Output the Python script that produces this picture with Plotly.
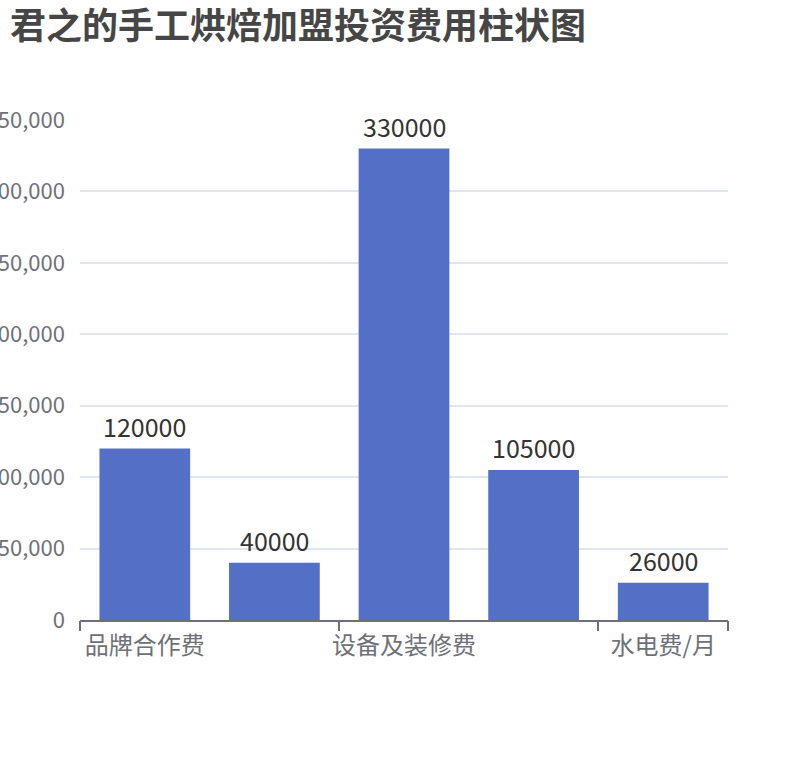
import plotly.graph_objects as go

categories = ["品牌合作费", "加盟保证金", "设备及装修费", "首批原料费", "水电费/月"]
costs = [120000, 40000, 330000, 105000, 26000]
shown_labels = categories[::2]
y_ticks = [0, 50000, 100000, 150000, 200000, 250000, 300000, 350000]

FONT = "Noto Sans CJK SC, Microsoft YaHei, sans-serif"
AXIS_GREY = "#6E7079"

fig = go.Figure()
fig.add_trace(
    go.Bar(
        x=categories,
        y=costs,
        marker_color="#5470C6",
        marker_line_width=0,
        hoverinfo="x+y",
    )
)

# value labels above the bars
for cat, val in zip(categories, costs):
    fig.add_annotation(
        x=cat,
        y=val,
        text=str(val),
        showarrow=False,
        yanchor="middle",
        yshift=23,
        font=dict(size=25, color="#333333", family=FONT),
    )

fig.update_layout(
    width=810,
    height=760,
    margin=dict(l=80, r=82, t=120, b=140, autoexpand=False),
    paper_bgcolor="white",
    plot_bgcolor="white",
    showlegend=False,
    bargap=0.3,
    font=dict(family=FONT),
    title=dict(
        text="<b>君之的手工烘焙加盟投资费用柱状图</b>",
        x=10 / 810,
        xanchor="left",
        xref="container",
        y=1 - 26 / 760,
        yanchor="middle",
        pad=dict(l=0, r=0, t=0, b=0),
        font=dict(size=36, color="#464646", family=FONT),
    ),
    xaxis=dict(
        type="category",
        categoryorder="array",
        categoryarray=categories,
        tickmode="array",
        tickvals=shown_labels,
        ticktext=shown_labels,
        ticks="",
        showgrid=False,
        showline=True,
        linecolor=AXIS_GREY,
        linewidth=2,
        tickfont=dict(size=24, color=AXIS_GREY),
        ticklabelstandoff=3,
        automargin=False,
    ),
    # tick marks at category boundaries, every second category
    xaxis2=dict(
        overlaying="x",
        anchor="y",
        side="bottom",
        range=[-0.5, len(categories) - 0.5],
        tickmode="array",
        tickvals=[-0.5, 1.5, 3.5, len(categories) - 0.5],
        ticktext=["", "", "", ""],
        ticks="outside",
        ticklen=10,
        tickwidth=2,
        tickcolor=AXIS_GREY,
        showgrid=False,
        showline=False,
        zeroline=False,
        automargin=False,
    ),
    yaxis=dict(
        range=[0, 350000],
        tickmode="array",
        tickvals=y_ticks,
        tickformat=",",
        showgrid=True,
        gridcolor="#E0E6F1",
        gridwidth=2,
        zeroline=False,
        showline=False,
        ticks="",
        tickfont=dict(size=22, color=AXIS_GREY),
        ticklabelstandoff=14,
        automargin=False,
    ),
)

# invisible helper trace so the boundary-tick axis is drawn
fig.add_trace(
    go.Scatter(
        x=[-0.5, len(categories) - 0.5],
        y=[0, 0],
        xaxis="x2",
        mode="markers",
        marker=dict(opacity=0),
        hoverinfo="skip",
    )
)

# drop the default 8px body margin so the chart sits at the page corner
fig.write_html(
    "out.html",
    config={"displayModeBar": False},
    post_script="document.body.style.margin = '0';",
)
